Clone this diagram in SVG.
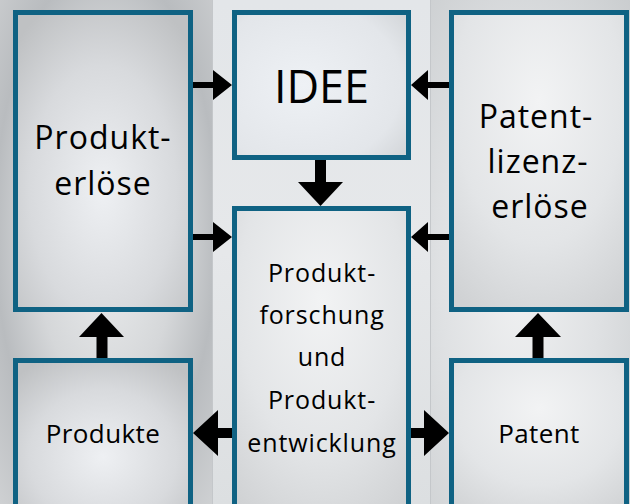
<svg xmlns="http://www.w3.org/2000/svg" width="630" height="504" viewBox="0 0 630 504">
  <defs>
    <radialGradient id="bgL" cx="0.5" cy="0.45" r="0.75">
      <stop offset="0" stop-color="#eef0f1"/>
      <stop offset="0.45" stop-color="#d5d7d9"/>
      <stop offset="0.7" stop-color="#b9bcbf"/>
      <stop offset="1" stop-color="#cfd1d3"/>
    </radialGradient>
    <linearGradient id="bgM" x1="0" y1="0" x2="0" y2="1">
      <stop offset="0" stop-color="#e3e6e9"/>
      <stop offset="0.5" stop-color="#e6e8ea"/>
      <stop offset="1" stop-color="#dcdfe1"/>
    </linearGradient>
    <radialGradient id="bgR" cx="0.45" cy="0.55" r="0.8">
      <stop offset="0" stop-color="#f0f1f2"/>
      <stop offset="0.5" stop-color="#dfe1e3"/>
      <stop offset="1" stop-color="#c9ccce"/>
    </radialGradient>
    <radialGradient id="boxA" cx="0.5" cy="0.6" r="0.7">
      <stop offset="0" stop-color="#eef0f3"/>
      <stop offset="0.6" stop-color="#d8dadd"/>
      <stop offset="1" stop-color="#bfc1c3"/>
    </radialGradient>
    <radialGradient id="boxB" cx="0.4" cy="0.5" r="0.8">
      <stop offset="0" stop-color="#eef1f5"/>
      <stop offset="0.7" stop-color="#e3e6ea"/>
      <stop offset="1" stop-color="#cfd2d5"/>
    </radialGradient>
    <radialGradient id="boxC" cx="0.5" cy="0.3" r="0.8">
      <stop offset="0" stop-color="#f2f3f4"/>
      <stop offset="0.6" stop-color="#e3e5e7"/>
      <stop offset="1" stop-color="#d0d2d4"/>
    </radialGradient>
  </defs>
  <style>
    .box { stroke: #0f6283; stroke-width: 5; }
    .arr { fill: #000000; }
    .t { font-family: "Open Sans", "Noto Sans", "Liberation Sans", sans-serif; fill: #000000; text-anchor: middle; }
    .big { font-size: 32px; letter-spacing: 1px; }
    .mid { font-size: 25px; letter-spacing: 0.9px; }
    .sm { font-size: 26px; letter-spacing: 0.4px; }
  </style>

  <!-- background panels -->
  <rect x="0" y="0" width="212" height="504" fill="url(#bgL)"/>
  <rect x="212" y="0" width="218" height="504" fill="url(#bgM)"/>
  <rect x="430" y="0" width="200" height="504" fill="url(#bgR)"/>
  <line x1="212.5" y1="0" x2="212.5" y2="504" stroke="#c4c7ca" stroke-width="1"/>
  <line x1="430.5" y1="0" x2="430.5" y2="504" stroke="#c4c7ca" stroke-width="1"/>

  <g id="node-produkterloese">
    <rect class="box" x="15.5" y="12.5" width="175" height="297" fill="url(#boxA)"/>
    <text class="t big" x="103" y="149">Produkt-</text>
    <text class="t big" x="103" y="195">erlöse</text>
  </g>
  <g id="node-idee">
    <rect class="box" x="234.5" y="12.5" width="174" height="145" fill="url(#boxB)"/>
    <text class="t" x="321.5" y="103" font-size="45">IDEE</text>
  </g>
  <g id="node-patentlizenzerloese">
    <rect class="box" x="451.5" y="12.5" width="175" height="297" fill="url(#boxC)"/>
    <text class="t big" x="536" y="128">Patent-</text>
    <text class="t big" x="538" y="173">lizenz-</text>
    <text class="t big" x="540" y="218">erlöse</text>
  </g>
  <g id="node-forschung">
    <rect class="box" x="234.5" y="208.5" width="174" height="310" fill="url(#boxC)"/>
    <text class="t mid" x="322" y="282">Produkt-</text>
    <text class="t mid" x="322" y="324">forschung</text>
    <text class="t mid" x="322" y="366">und</text>
    <text class="t mid" x="322" y="409">Produkt-</text>
    <text class="t mid" x="322" y="452">entwicklung</text>
  </g>
  <g id="node-produkte">
    <rect class="box" x="15.5" y="360.5" width="175" height="160" fill="url(#boxA)"/>
    <text class="t sm" x="103" y="443">Produkte</text>
  </g>
  <g id="node-patent">
    <rect class="box" x="451.5" y="360.5" width="175" height="160" fill="url(#boxC)"/>
    <text class="t sm" x="539" y="443">Patent</text>
  </g>

  <g id="connectors">
    <polygon class="arr" points="193,82 213,82 213,70 232,85 213,100 213,88 193,88"/>
    <polygon class="arr" points="193,234 213,234 213,222 232,237 213,252 213,240 193,240"/>
    <polygon class="arr" points="449,82 428,82 428,70 411,85 428,100 428,88 449,88"/>
    <polygon class="arr" points="449,234 428,234 428,222 411,237 428,252 428,240 449,240"/>
    <polygon class="arr" points="315,160 326,160 326,182 343,182 320.5,206 298,182 315,182"/>
    <polygon class="arr" points="96.5,358 107.5,358 107.5,337 124,337 101.5,313 79,337 96.5,337"/>
    <polygon class="arr" points="532.5,358 543.5,358 543.5,337 561,337 538,313 515,337 532.5,337"/>
    <polygon class="arr" points="232,428 218,428 218,410 193,433 218,456 218,438 232,438"/>
    <polygon class="arr" points="411,428 424,428 424,410 449,433 424,456 424,438 411,438"/>
  </g>
</svg>
